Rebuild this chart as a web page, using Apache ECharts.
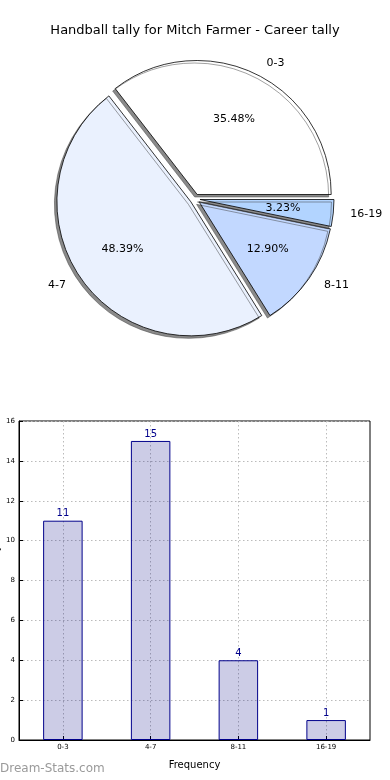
<!DOCTYPE html>
<html>
<head>
<meta charset="utf-8">
<script src="https://cdn.jsdelivr.net/npm/echarts@6/dist/echarts.min.js"></script>
<style>html,body{margin:0;padding:0;background:#fff;}#c{width:390px;height:780px;}</style>
</head>
<body>
<div id="c"></div>
<script>
const chartTitle = 'Handball tally for Mitch Farmer - Career tally';
const categories = ['0-3', '4-7', '8-11', '16-19'];
const tallies = [11, 15, 4, 1];
const yAxisName = 'Handball Tally';
const xAxisName = 'Frequency';
const watermark = 'Dream-Stats.com';
const pieColors = ['#ffffff', '#eaf1fe', '#c2d8ff', '#b2d4ff'];

const FONT = 'DejaVu Sans';
const chart = echarts.init(document.getElementById('c'), null, {renderer: 'canvas'});

const pieData = categories.map((c, i) => ({
  name: c, value: tallies[i], selected: true,
  itemStyle: {color: pieColors[i]}
}));
const pieLabelData = categories.map((c, i) => ({name: c, value: tallies[i], selected: true}));

const option = {
  animation: false,
  textStyle: {fontFamily: FONT},
  title: {
    text: chartTitle, left: 'center', top: 19,
    textStyle: {fontFamily: FONT, fontSize: 13, fontWeight: 'normal', color: '#000'}
  },
  graphic: [{
    type: 'text', left: 0, top: 763,
    style: {text: watermark, fill: '#9a9a9a', font: '12px "DejaVu Sans"'}
  }, {
    type: 'text', x: -4, y: 580, rotation: Math.PI / 2,
    style: {text: yAxisName, fill: '#000', font: '10px "DejaVu Sans"', align: 'center', verticalAlign: 'middle'}
  }],
  grid: {left: 19, right: 20, top: 421, bottom: 40, show: true, borderColor: '#000', borderWidth: 1, containLabel: false, outerBoundsMode: 'none'},
  xAxis: {
    type: 'category', data: categories, boundaryGap: true,
    name: xAxisName, nameLocation: 'middle', nameGap: 20,
    nameTextStyle: {fontFamily: FONT, fontSize: 10, color: '#000'},
    axisLine: {lineStyle: {color: '#000'}},
    axisTick: {show: true, inside: true, alignWithLabel: true, length: 4, lineStyle: {color: '#000'}},
    axisLabel: {fontFamily: FONT, fontSize: 7, color: '#000', margin: 4},
    splitLine: {show: true, alignWithLabel: true, lineStyle: {color: '#bbbbbb', type: [1.5, 2.5], width: 1}}
  },
  yAxis: {
    type: 'value', min: 0, max: 16, interval: 2,
    axisLine: {show: true, lineStyle: {color: '#000'}},
    axisTick: {show: true, inside: true, length: 4, lineStyle: {color: '#000'}},
    axisLabel: {fontFamily: FONT, fontSize: 7, color: '#000', margin: 4},
    splitLine: {show: true, lineStyle: {color: '#bbbbbb', type: [1.5, 2.5], width: 1}}
  },
  series: [
    {
      type: 'pie', center: [195, 199], radius: [0, 134],
      startAngle: 0, clockwise: false,
      selectedMode: 'multiple', selectedOffset: 5,
      avoidLabelOverlap: false,
      emphasis: {disabled: true, scale: false},
      select: {itemStyle: {borderColor: '#000', borderWidth: 0.8}},
      itemStyle: {
        borderColor: '#000', borderWidth: 0.8,
        shadowColor: 'rgba(60,60,60,0.6)', shadowBlur: 0, shadowOffsetX: -2.5, shadowOffsetY: 2.5
      },
      label: {show: true, position: 'outside', fontFamily: FONT, fontSize: 11, color: '#000', formatter: '{b}'},
      labelLine: {show: false, length: 12, length2: 0},
      data: pieData
    },
    {
      type: 'pie', center: [195, 199], radius: [0, 161],
      startAngle: 0, clockwise: false, silent: true,
      selectedMode: 'multiple', selectedOffset: 5,
      avoidLabelOverlap: false,
      emphasis: {disabled: true, scale: false},
      itemStyle: {color: 'rgba(0,0,0,0)', borderWidth: 0},
      select: {itemStyle: {color: 'rgba(0,0,0,0)', borderWidth: 0}},
      label: {show: true, position: 'inside', fontFamily: FONT, fontSize: 11, color: '#000',
        formatter: p => p.percent.toFixed(2) + '%'},
      labelLine: {show: false},
      data: pieLabelData
    },
    {
      type: 'bar', data: tallies, barWidth: '45%',
      itemStyle: {color: 'rgba(0,0,128,0.2)', borderColor: '#00008b', borderWidth: 1},
      label: {show: true, position: 'top', distance: 2, fontFamily: FONT, fontSize: 10, color: '#00008b'},
      emphasis: {disabled: true}
    }
  ]
};
chart.setOption(option);
</script>
</body>
</html>
